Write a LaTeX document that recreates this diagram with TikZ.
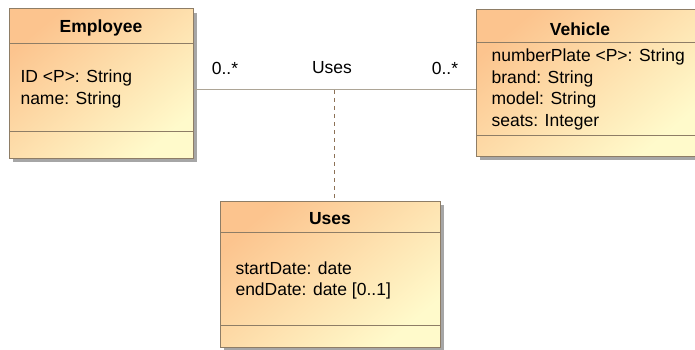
\documentclass[tikz,border=0pt]{standalone}
\usepackage{fontspec}
\setmainfont{Liberation Sans}
\usepackage{tikz}
\usetikzlibrary{shadows,calc}

\definecolor{boxtop}{HTML}{FCC48E}
\definecolor{boxbot}{HTML}{FFFACB}
\definecolor{boxline}{HTML}{8E7D66}
\definecolor{assocline}{HTML}{ADA596}
\definecolor{dashline}{HTML}{8C7156}

\tikzset{
	classbox/.style={draw=boxline,line width=1pt,top color=boxtop,bottom color=boxbot,shading angle=40,
		drop shadow={shadow xshift=4pt,shadow yshift=-4pt,fill=black!35,opacity=1}},
	sepline/.style={draw=boxline,line width=0.8pt},
	title/.style={font=\fontsize{17.5}{21}\selectfont\bfseries},
	attrs/.style={anchor=west,align=left,font=\fontsize{17.5}{21.5}\selectfont},
	lbl/.style={font=\fontsize{17.5}{21}\selectfont}
}

\begin{document}
\begin{tikzpicture}[x=1pt,y=-1pt]
	\useasboundingbox (0,0) rectangle (695,350);

	\node[classbox,minimum width=184pt,minimum height=149pt] (emp)  at (101,83.5) {};
	\node[classbox,minimum width=221pt,minimum height=146pt] (veh)  at (586.5,83) {};
	\node[classbox,minimum width=220pt,minimum height=146pt] (uses) at (330,274) {};

	\draw[sepline] (9,43)   -- (193,43);
	\draw[sepline] (9,131)  -- (193,131);
	\draw[sepline] (476,42) -- (697,42);
	\draw[sepline] (476,135)-- (697,135);
	\draw[sepline] (220,232)-- (440,232);
	\draw[sepline] (220,325)-- (440,325);

	\node[title] (empname)  at (101,28)  {Employee};
	\node[title] (vehname)  at (580,29)  {Vehicle};
	\node[title] (usesname) at (330,219) {Uses};

	\node[attrs] (empattr)  at (17,89)    {ID <P>: String\\name: String};
	\node[attrs] (vehattr)  at (488,89.5) {numberPlate <P>: String\\brand: String\\model: String\\seats: Integer};
	\node[attrs] (usesattr) at (232,280.5){startDate: date\\endDate: date [0..1]};

	\coordinate (mid) at (334,90);
	\draw[assocline,line width=1pt] (mid -| emp.east) -- (mid -| veh.west);
	\draw[dashline,line width=0.8pt,dash pattern=on 4pt off 4pt] (mid) -- (mid |- uses.north);

	\node[lbl] (multemp) at (225,68) {0..*};
	\node[lbl] (assoc)   at (332,68) {Uses};
	\node[lbl] (multveh) at (445,68) {0..*};
\end{tikzpicture}
\end{document}
